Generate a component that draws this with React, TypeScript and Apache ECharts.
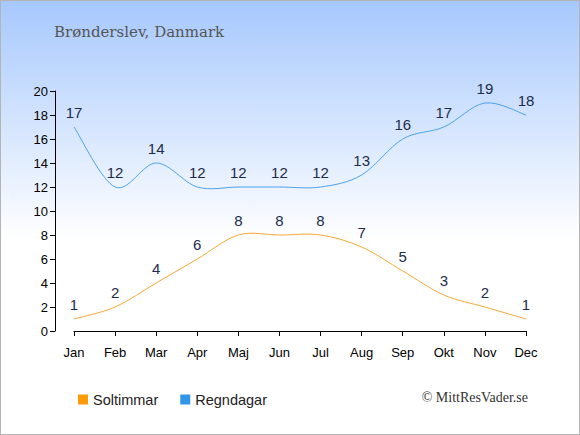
import React, { useEffect, useRef } from "react";
import * as echarts from "echarts";

const months = ["Jan", "Feb", "Mar", "Apr", "Maj", "Jun", "Jul", "Aug", "Sep", "Okt", "Nov", "Dec"];
const soltimmar = [1, 2, 4, 6, 8, 8, 8, 7, 5, 3, 2, 1];
const regndagar = [17, 12, 14, 12, 12, 12, 12, 13, 16, 17, 19, 18];
const titleText = "Brønderslev, Danmark";
const creditText = "© MittResVader.se";

const ORANGE = "#fb9a0a";
const BLUE = "#3296e8";
const LABEL = "#1d2b4c";

function curveSeries(name: string, values: number[], stroke: string) {
  const n = values.length;
  return {
    name: name + "-curve",
    type: "custom",
    coordinateSystem: "cartesian2d",
    silent: true,
    data: values.map((v, i) => [i, v]),
    encode: { x: 0, y: 1 },
    renderItem: (params: any, api: any) => {
      const i = params.dataIndex;
      if (i >= n - 1) return null;
      const idx = (k: number) => Math.max(0, Math.min(n - 1, k));
      const p = (k: number) => api.coord([idx(k), values[idx(k)]]);
      const p0 = p(i - 1);
      const p1 = p(i);
      const p2 = p(i + 1);
      const p3 = p(i + 2);
      const t = 6;
      return {
        type: "bezierCurve",
        shape: {
          x1: p1[0],
          y1: p1[1],
          x2: p2[0],
          y2: p2[1],
          cpx1: p1[0] + (p2[0] - p0[0]) / t,
          cpy1: p1[1] + (p2[1] - p0[1]) / t,
          cpx2: p2[0] - (p3[0] - p1[0]) / t,
          cpy2: p2[1] - (p3[1] - p1[1]) / t,
        },
        style: { stroke, lineWidth: 1, fill: null },
      };
    },
  };
}

export default function App() {
  const ref = useRef<HTMLDivElement>(null);
  useEffect(() => {
    document.body.style.margin = "0";
    const chart = echarts.init(ref.current!, null, { renderer: "svg" });
    const labelCfg = {
      show: true,
      position: "top",
      distance: 7,
      color: LABEL,
      fontSize: 15,
      fontFamily: "Liberation Sans, Arial, sans-serif",
    };
    chart.setOption({
      animation: false,
      backgroundColor: "transparent",
      title: {
        text: titleText,
        left: 49,
        top: 19,
        textStyle: {
          fontFamily: "DejaVu Serif, serif",
          fontSize: 15,
          fontWeight: "normal",
          color: "#555555",
        },
      },
      legend: {
        left: 73,
        top: 387,
        icon: "rect",
        itemWidth: 10,
        itemHeight: 10,
        itemGap: 22,
        textStyle: { fontSize: 14.5, color: "#222", fontFamily: "Liberation Sans, Arial, sans-serif" },
        data: [
          { name: "Soltimmar", itemStyle: { color: ORANGE, opacity: 1 } },
          { name: "Regndagar", itemStyle: { color: BLUE, opacity: 1 } },
        ],
      },
      grid: { left: 74, right: 54, top: 91, bottom: 104 },
      xAxis: {
        type: "category",
        data: months,
        boundaryGap: false,
        offset: 10,
        axisLine: { lineStyle: { color: "#000", width: 1 } },
        axisTick: { length: 5, lineStyle: { color: "#000" }, alignWithLabel: true },
        axisLabel: { color: "#000", fontSize: 13, margin: 5, fontFamily: "Liberation Sans, Arial, sans-serif" },
        splitLine: { show: false },
      },
      yAxis: {
        type: "value",
        min: 0,
        max: 20,
        interval: 2,
        offset: 19,
        axisLine: { show: true, lineStyle: { color: "#000", width: 1 } },
        axisTick: { show: true, length: 5, lineStyle: { color: "#000" } },
        axisLabel: { color: "#000", fontSize: 13, margin: 7, fontFamily: "Liberation Sans, Arial, sans-serif" },
        splitLine: { show: false },
      },
      graphic: [
        {
          type: "text",
          right: 52,
          top: 390,
          style: {
            text: creditText,
            fontFamily: "Liberation Serif, serif",
            fontSize: 14,
            fill: "#333",
          },
        },
      ],
      series: [
        curveSeries("Soltimmar", soltimmar, "#f9a733"),
        curveSeries("Regndagar", regndagar, "#4aa3ee"),
        {
          name: "Soltimmar",
          type: "line",
          data: soltimmar,
          symbol: "circle",
          symbolSize: 1,
          showSymbol: true,
          color: ORANGE,
          itemStyle: { color: "rgba(0,0,0,0)", borderWidth: 0 },
          lineStyle: { width: 0, color: "rgba(0,0,0,0)" },
          label: labelCfg,
        },
        {
          name: "Regndagar",
          type: "line",
          data: regndagar,
          symbol: "circle",
          symbolSize: 1,
          showSymbol: true,
          color: BLUE,
          itemStyle: { color: "rgba(0,0,0,0)", borderWidth: 0 },
          lineStyle: { width: 0, color: "rgba(0,0,0,0)" },
          label: labelCfg,
        },
      ],
    });
    return () => chart.dispose();
  }, []);
  return (
    <div
      style={{
        position: "relative",
        width: 580,
        height: 435,
        background: "linear-gradient(to bottom, #a6c8fd 0%, #ffffff 55%, #ffffff 100%)",
      }}
    >
      <div ref={ref} style={{ position: "absolute", left: 0, top: 0, width: 580, height: 435 }} />
      <div
        style={{
          position: "absolute",
          left: 0,
          top: 0,
          width: 580,
          height: 435,
          boxSizing: "border-box",
          border: "1px solid #b4b4b4",
          pointerEvents: "none",
        }}
      />
    </div>
  );
}
